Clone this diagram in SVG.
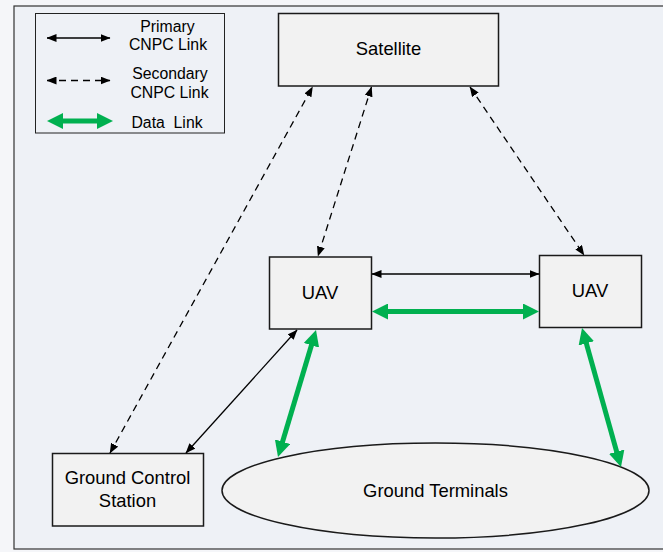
<svg xmlns="http://www.w3.org/2000/svg" width="663" height="552" viewBox="0 0 663 552">
<defs>
<marker id="ab" markerUnits="userSpaceOnUse" markerWidth="10" markerHeight="8" refX="9.5" refY="4" orient="auto-start-reverse" viewBox="0 0 10 8"><path d="M0,0 L10,4 L0,8 z" fill="#000"/></marker>
<marker id="ag" markerUnits="userSpaceOnUse" markerWidth="16" markerHeight="16" refX="9" refY="8" orient="auto-start-reverse" viewBox="0 0 16 16"><path d="M0,0 L16,8 L0,16 z" fill="#00B050"/></marker>
<style>
.box{fill:#F2F2F2;stroke:#1a1a1a;stroke-width:1.5}
.t{font-family:"Liberation Sans",Arial,sans-serif;font-size:18.4px;fill:#000;text-anchor:middle}
.lt{font-family:"Liberation Sans",Arial,sans-serif;font-size:15.8px;fill:#000;text-anchor:middle}
.p{stroke:#000;stroke-width:1.3;fill:none;marker-start:url(#ab);marker-end:url(#ab)}
.s{stroke:#000;stroke-width:1.3;fill:none;stroke-dasharray:7 5;marker-start:url(#ab);marker-end:url(#ab)}
.g{stroke:#00B050;stroke-width:5;fill:none;marker-start:url(#ag);marker-end:url(#ag)}
</style>
</defs>
<rect width="663" height="552" fill="#F5F6F9"/>
<rect x="14" y="6" width="660" height="543" fill="#EEF1F6" stroke="#333" stroke-width="1.2"/>
<g id="legend">
<rect x="35.5" y="13.5" width="189" height="119.5" fill="#EEF1F6" stroke="#222" stroke-width="1"/>
<line class="p" x1="47" y1="38" x2="110" y2="38"/>
<text class="lt" x="167.5" y="32">Primary</text>
<text class="lt" x="168" y="50">CNPC Link</text>
<line class="s" x1="47" y1="80.5" x2="110" y2="80.5"/>
<text class="lt" x="170" y="79">Secondary</text>
<text class="lt" x="169.5" y="98">CNPC Link</text>
<line class="g" x1="54" y1="121" x2="106" y2="121"/>
<text class="lt" x="167" y="128" xml:space="preserve">Data  Link</text>
</g>
<g id="satellite">
<rect class="box" x="278.5" y="13.5" width="220" height="72.5"/>
<text class="t" x="388.5" y="55">Satellite</text>
</g>
<g id="uav1">
<rect class="box" x="269.5" y="257" width="102" height="72"/>
<text class="t" x="320" y="299">UAV</text>
</g>
<g id="uav2">
<rect class="box" x="539.5" y="255.5" width="102" height="72"/>
<text class="t" x="590" y="297">UAV</text>
</g>
<g id="gcs">
<rect class="box" x="52.5" y="453.5" width="151" height="72.5"/>
<text class="t" x="127.5" y="484">Ground Control</text>
<text class="t" x="127.5" y="506.5">Station</text>
</g>
<g id="terminals">
<ellipse class="box" cx="435.5" cy="490.5" rx="213.5" ry="47.5"/>
<text class="t" x="435.5" y="496.5">Ground Terminals</text>
</g>
<g id="connectors">
<line class="s" x1="110" y1="453" x2="312.5" y2="87"/>
<line class="s" x1="371.5" y1="87" x2="318" y2="256"/>
<line class="s" x1="470" y1="87" x2="584" y2="255"/>
<line class="p" x1="186" y1="453" x2="297" y2="330"/>
<line class="p" x1="372" y1="274" x2="539" y2="274"/>
<line class="g" x1="379" y1="311.5" x2="532" y2="311.5"/>
<line class="g" x1="314" y1="336.7" x2="280" y2="450.3"/>
<line class="g" x1="583.9" y1="334.7" x2="619.1" y2="460.3"/>
</g>
</svg>
